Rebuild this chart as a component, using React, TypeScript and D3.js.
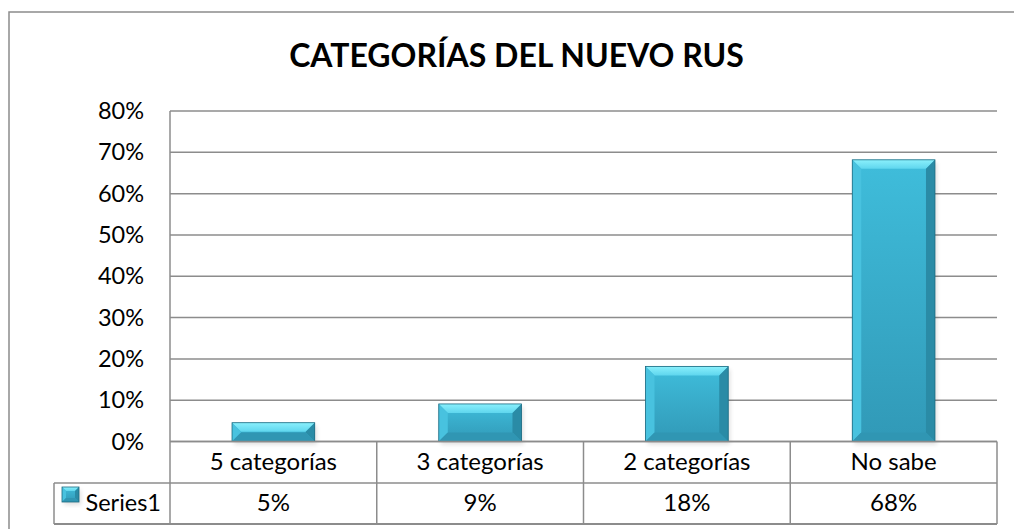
import React from "react";
import * as d3 from "d3";

const title = "CATEGORÍAS DEL NUEVO RUS";
const categories = ["5 categorías", "3 categorías", "2 categorías", "No sabe"];
const values = [1 / 22, 2 / 22, 4 / 22, 15 / 22];
const valueLabels = ["5%", "9%", "18%", "68%"];
const seriesName = "Series1";
const yTicks = [0, 0.1, 0.2, 0.3, 0.4, 0.5, 0.6, 0.7, 0.8];

const W = 1014;
const H = 529;
const left = 170;
const right = 997;
const top = 111;
const base = 441.5;
const row1 = 483;
const row2 = 524;
const tableLeft = 54;
const lineColor = "#8c8c8c";
const font = "Lato, 'Open Sans', sans-serif";

function Bevel({ x, y, w, h, b }: { x: number; y: number; w: number; h: number; b: number }) {
  const bb = Math.min(b, h / 2, w / 2);
  return (
    <g>
      <rect x={x + 2} y={y + 3} width={w} height={h} fill="#000" opacity={0.12} filter="url(#blur)" />
      <rect x={x} y={y} width={w} height={h} fill="url(#barGrad)" />
      <polygon points={`${x},${y} ${x + w},${y} ${x + w - bb},${y + bb} ${x + bb},${y + bb}`} fill="url(#topGrad)" />
      <polygon points={`${x},${y} ${x + bb},${y + bb} ${x + bb},${y + h - bb} ${x},${y + h}`} fill="#48c2df" />
      <polygon points={`${x + w},${y} ${x + w - bb},${y + bb} ${x + w - bb},${y + h - bb} ${x + w},${y + h}`} fill="#2a8ba6" />
      <polygon points={`${x},${y + h} ${x + bb},${y + h - bb} ${x + w - bb},${y + h - bb} ${x + w},${y + h}`} fill="#3096b3" />
      <rect x={x} y={y} width={w} height={h} fill="none" stroke="#1d6a80" strokeWidth={0.8} />
    </g>
  );
}

export default function App() {
  const x = d3.scaleBand<string>().domain(categories).range([left, right]).padding(0);
  const y = d3.scaleLinear().domain([0, 0.8]).range([base, top]);
  const bw = x.bandwidth() / 2.5;
  const fmt = d3.format(".0%");

  return (
    <svg width={W} height={H} style={{ position: "absolute", left: 0, top: 0, background: "#fff" }}>
      <defs>
        <linearGradient id="barGrad" x1="0" y1="0" x2="0" y2="1">
          <stop offset="0" stopColor="#3fbddb" />
          <stop offset="1" stopColor="#3199b7" />
        </linearGradient>
        <linearGradient id="topGrad" x1="0" y1="0" x2="0" y2="1">
          <stop offset="0" stopColor="#8af0fc" />
          <stop offset="1" stopColor="#5fd6ee" />
        </linearGradient>
        <filter id="blur" x="-20%" y="-20%" width="140%" height="140%">
          <feGaussianBlur stdDeviation="2" />
        </filter>
      </defs>
      <rect x={9} y={12} width={1010} height={520} fill="#fff" stroke={lineColor} strokeWidth={1.5} />
      <text x={516.5} y={67} textAnchor="middle" fontFamily={font} fontWeight={700} fontSize={32} fill="#000">
        {title}
      </text>
      {yTicks.map((t) => (
        <g key={t}>
          <line x1={left} x2={right} y1={y(t)} y2={y(t)} stroke={lineColor} strokeWidth={1.5} />
          <text x={144} y={y(t) + 8} textAnchor="end" fontFamily={font} fontSize={23.5} fill="#000">
            {fmt(t)}
          </text>
        </g>
      ))}
      <line x1={left} x2={left} y1={top} y2={row2} stroke={lineColor} strokeWidth={1.5} />
      {categories.map((c, i) => {
        const x0 = x(c)!;
        const cx = x0 + x.bandwidth() / 2;
        const yt = y(values[i]);
        return (
          <g key={c}>
            <Bevel x={cx - bw / 2} y={yt} w={bw} h={base - yt} b={9} />
          </g>
        );
      })}
      {/* data table */}
      <line x1={left} x2={right} y1={base} y2={base} stroke={lineColor} strokeWidth={1.5} />
      <line x1={tableLeft} x2={right} y1={row1} y2={row1} stroke={lineColor} strokeWidth={1.5} />
      <line x1={tableLeft} x2={right} y1={row2} y2={row2} stroke={lineColor} strokeWidth={2} />
      <line x1={tableLeft} x2={tableLeft} y1={row1} y2={row2} stroke={lineColor} strokeWidth={1.5} />
      {categories.map((c) => (
        <line key={c} x1={x(c)! + x.bandwidth()} x2={x(c)! + x.bandwidth()} y1={base} y2={row2} stroke={lineColor} strokeWidth={1.5} />
      ))}
      {categories.map((c, i) => {
        const cx = x(c)! + x.bandwidth() / 2;
        return (
          <g key={c + "t"}>
            <text x={cx} y={470} textAnchor="middle" fontFamily={font} fontSize={24} fill="#000">
              {c}
            </text>
            <text x={cx} y={511} textAnchor="middle" fontFamily={font} fontSize={24} fill="#000">
              {valueLabels[i]}
            </text>
          </g>
        );
      })}
      <Bevel x={62} y={487} w={17} h={15} b={4} />
      <text x={85.5} y={511} fontFamily={font} fontSize={23.5} fill="#000">
        {seriesName}
      </text>
    </svg>
  );
}
